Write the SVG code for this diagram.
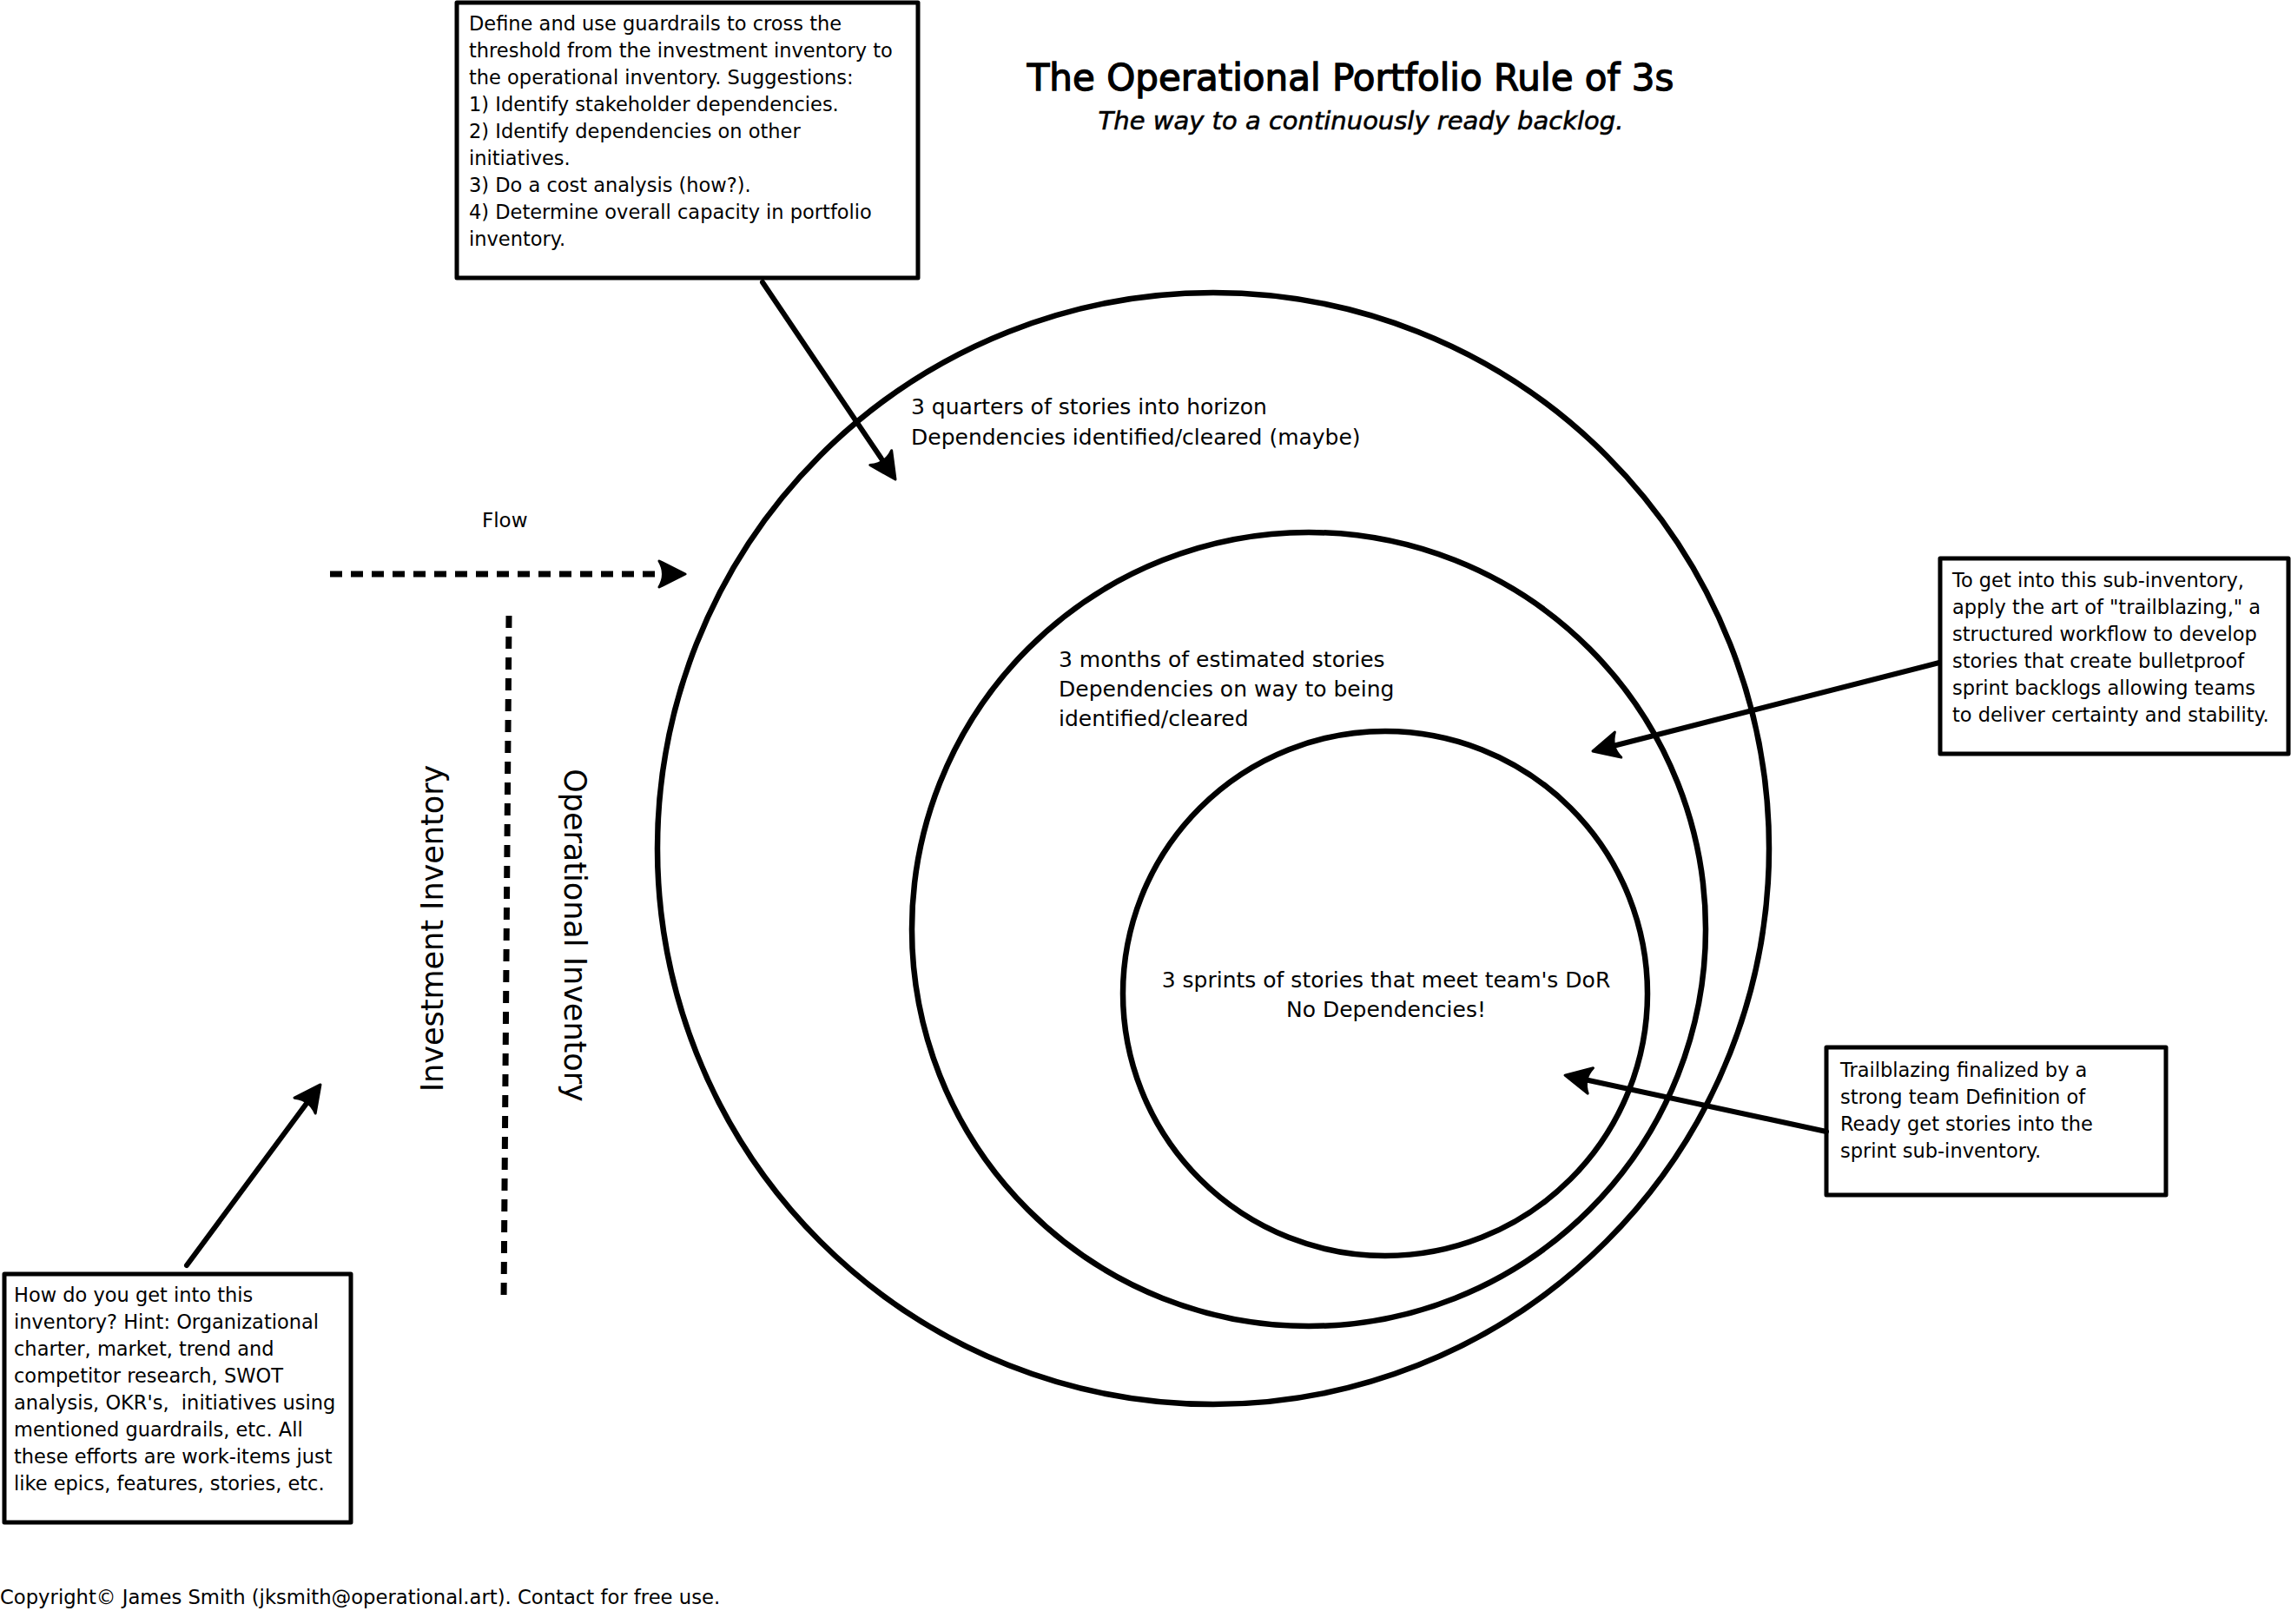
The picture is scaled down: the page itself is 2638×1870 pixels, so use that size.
<svg xmlns="http://www.w3.org/2000/svg" width="2638" height="1870" viewBox="0 0 2638 1870">
<style>
  text { font-family: "DejaVu Sans", "Liberation Sans", sans-serif; fill: #000; }
  .box { fill: #fff; stroke: #000; stroke-width: 5; stroke-linejoin: round; }
  .ring { fill: none; stroke: #000; stroke-width: 6.5; }
  .conn { fill: none; stroke: #000; stroke-width: 6; stroke-linecap: round; }
  .dash { fill: none; stroke: #000; stroke-width: 7; stroke-dasharray: 14 10; }
  .note { font-size: 22.5px; }
  .ctext { font-size: 25px; }
  .side { font-size: 35px; }
</style>
<defs>
  <marker id="head" markerUnits="userSpaceOnUse" viewBox="-30 -20 44 40" markerWidth="44" markerHeight="40" refX="0" refY="0" orient="auto">
    <path d="M 10,0 L -20,-15 Q -11,0 -20,15 Z" fill="#000" stroke="#000" stroke-width="3" stroke-linejoin="round"/>
  </marker>
</defs>
<rect width="2638" height="1870" fill="#fff"/>

<g id="title">
  <text x="1555" y="104" font-size="42" text-anchor="middle" stroke="#000" stroke-width="1.3">The Operational Portfolio Rule of 3s</text>
  <text x="1567" y="149" font-size="29" font-style="italic" text-anchor="middle" stroke="#000" stroke-width="0.6">The way to a continuously ready backlog.</text>
</g>

<g id="outer-circle">
  <circle class="ring" cx="1397" cy="977" r="640"/>
  <text class="ctext" x="1049" y="477">3 quarters of stories into horizon</text>
  <text class="ctext" x="1049" y="512">Dependencies identified/cleared (maybe)</text>
</g>

<g id="middle-circle">
  <circle class="ring" cx="1507" cy="1070" r="457"/>
  <text class="ctext" x="1219" y="768">3 months of estimated stories</text>
  <text class="ctext" x="1219" y="802">Dependencies on way to being</text>
  <text class="ctext" x="1219" y="836">identified/cleared</text>
</g>

<g id="inner-circle">
  <circle class="ring" cx="1595" cy="1144" r="302"/>
  <text class="ctext" x="1596" y="1137" text-anchor="middle">3 sprints of stories that meet team's DoR</text>
  <text class="ctext" x="1596" y="1171" text-anchor="middle">No Dependencies!</text>
</g>

<g id="guardrails-note">
  <rect class="box" x="526" y="3" width="531" height="317"/>
  <text class="note" x="540" y="35">Define and use guardrails to cross the</text>
  <text class="note" x="540" y="66">threshold from the investment inventory to</text>
  <text class="note" x="540" y="97">the operational inventory. Suggestions:</text>
  <text class="note" x="540" y="128">1) Identify stakeholder dependencies.</text>
  <text class="note" x="540" y="159">2) Identify dependencies on other</text>
  <text class="note" x="540" y="190">initiatives.</text>
  <text class="note" x="540" y="221">3) Do a cost analysis (how?).</text>
  <text class="note" x="540" y="252">4) Determine overall capacity in portfolio</text>
  <text class="note" x="540" y="283">inventory.</text>
</g>

<g id="investment-note">
  <rect class="box" x="5" y="1467" width="399" height="286"/>
  <text class="note" x="16" y="1499">How do you get into this</text>
  <text class="note" x="16" y="1530">inventory? Hint: Organizational</text>
  <text class="note" x="16" y="1561">charter, market, trend and</text>
  <text class="note" x="16" y="1592">competitor research, SWOT</text>
  <text class="note" x="16" y="1623" xml:space="preserve">analysis, OKR's,  initiatives using</text>
  <text class="note" x="16" y="1654">mentioned guardrails, etc. All</text>
  <text class="note" x="16" y="1685">these efforts are work-items just</text>
  <text class="note" x="16" y="1716">like epics, features, stories, etc.</text>
</g>

<g id="trailblazing-note">
  <rect class="box" x="2234" y="643" width="401" height="225"/>
  <text class="note" x="2248" y="676">To get into this sub-inventory,</text>
  <text class="note" x="2248" y="707">apply the art of "trailblazing," a</text>
  <text class="note" x="2248" y="738">structured workflow to develop</text>
  <text class="note" x="2248" y="769">stories that create bulletproof</text>
  <text class="note" x="2248" y="800">sprint backlogs allowing teams</text>
  <text class="note" x="2248" y="831">to deliver certainty and stability.</text>
</g>

<g id="dor-note">
  <rect class="box" x="2103" y="1206" width="391" height="170"/>
  <text class="note" x="2119" y="1240">Trailblazing finalized by a</text>
  <text class="note" x="2119" y="1271">strong team Definition of</text>
  <text class="note" x="2119" y="1302">Ready get stories into the</text>
  <text class="note" x="2119" y="1333">sprint sub-inventory.</text>
</g>

<g id="inventory-labels">
  <text x="555" y="607" font-size="23">Flow</text>
  <text class="side" transform="translate(510,1069) rotate(-90)" text-anchor="middle">Investment Inventory</text>
  <text class="side" transform="translate(650,1077) rotate(90)" text-anchor="middle">Operational Inventory</text>
</g>

<g id="copyright">
  <text x="0" y="1847" font-size="22.7">Copyright© James Smith (jksmith@operational.art). Contact for free use.</text>
</g>

<g id="connectors">
  <path class="conn" d="M 878,325 L 1025.4,543.7" marker-end="url(#head)"/>
  <path class="dash" d="M 380,661 L 779,661" marker-end="url(#head)"/>
  <path class="dash" d="M 586,709 L 580,1500"/>
  <path class="conn" d="M 215,1457 L 363,1257" marker-end="url(#head)"/>
  <path class="conn" d="M 2233,763 L 1843.7,862.5" marker-end="url(#head)"/>
  <path class="conn" d="M 2103,1303 L 1811.8,1240.2" marker-end="url(#head)"/>
</g>
</svg>
